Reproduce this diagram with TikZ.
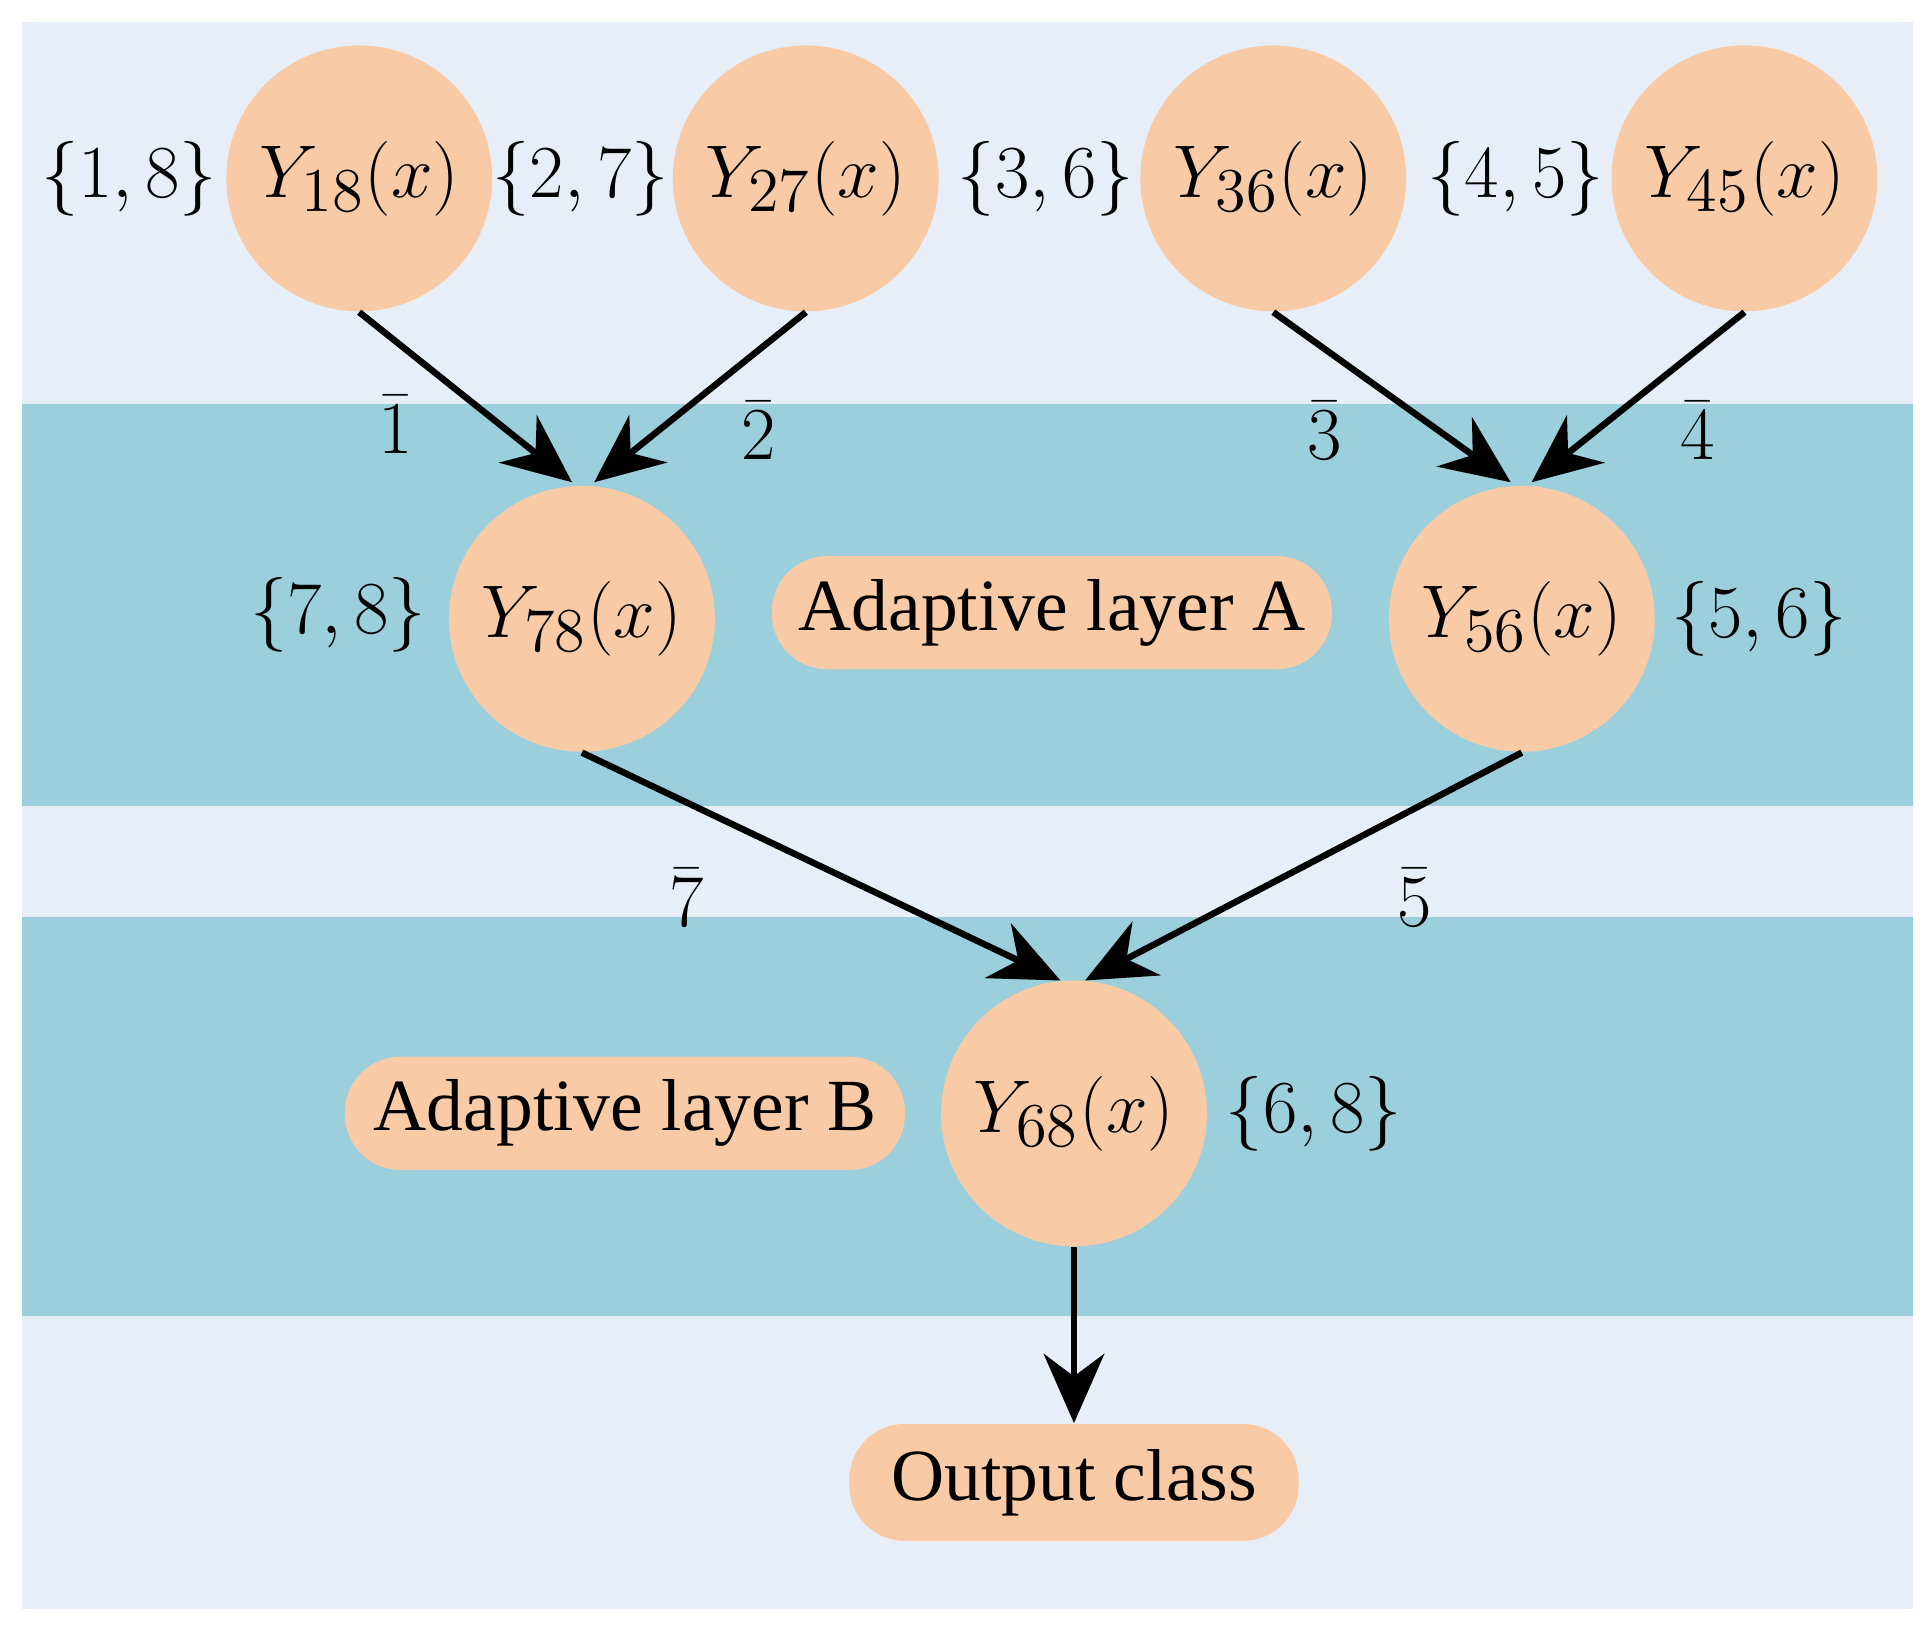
\documentclass[tikz,border=0pt]{standalone}
\usepackage{fontspec}
\setmainfont{Liberation Serif}
\usetikzlibrary{arrows.meta}
\definecolor{bgl}{HTML}{E8EEF7}
\definecolor{band}{HTML}{9BCFDC}
\definecolor{nodef}{HTML}{F8CBA6}
\begin{document}
\begin{tikzpicture}[x=0.01cm,y=-0.01cm,
  circ/.style={circle,fill=nodef,minimum size=2.16cm,inner sep=0pt,font=\fontsize{19}{22}\selectfont},
  pill/.style={rounded corners=0.45cm,fill=nodef,minimum height=0.92cm,inner sep=0pt,font=\fontsize{17}{20}\selectfont},
  lab/.style={font=\fontsize{19}{22}\selectfont},
  arr/.style={line width=1.5pt,-{Stealth[length=16pt,width=14pt]}}]
\useasboundingbox (0,0) rectangle (1568,1327);
\fill[white] (0,0) rectangle (1568,1327);
\fill[bgl] (18,18) rectangle (1555,1308);
\fill[band] (18,328) rectangle (1555,655);
\fill[band] (18,745) rectangle (1555,1070);
\node[circ] (a) at (292,145) {$Y_{18}(x)$};
\node[circ] (b) at (655,145) {$Y_{27}(x)$};
\node[circ] (c) at (1035,145) {$Y_{36}(x)$};
\node[circ] (d) at (1418,145) {$Y_{45}(x)$};
\node[circ] (e) at (473,503) {$Y_{78}(x)$};
\node[circ] (f) at (1237,503) {$Y_{56}(x)$};
\node[circ] (g) at (873,905) {$Y_{68}(x)$};
\node[lab] (sa) at (105,145) {$\{1,8\}$};
\node[lab] (sb) at (472,145) {$\{2,7\}$};
\node[lab] (sc) at (850,145) {$\{3,6\}$};
\node[lab] (sd) at (1232,145) {$\{4,5\}$};
\node[lab] (se) at (275,500) {$\{7,8\}$};
\node[lab] (sf) at (1430,503) {$\{5,6\}$};
\node[lab] (sg) at (1068,905) {$\{6,8\}$};
\node[pill,minimum width=4.55cm] (pa) at (855,498) {Adaptive layer A};
\node[pill,minimum width=4.55cm] (pb) at (508,905) {Adaptive layer B};
\node[pill,minimum width=3.65cm,minimum height=0.95cm] (out) at (873,1205) {Output class};
\coordinate (e1) at (465,392); \coordinate (e2) at (483,392);
\coordinate (f1) at (1228,392); \coordinate (f2) at (1245,392);
\coordinate (g1) at (862,797); \coordinate (g2) at (882,797);
\draw[arr] (a.south) -- (e1);
\draw[arr] (b.south) -- (e2);
\draw[arr] (c.south) -- (f1);
\draw[arr] (d.south) -- (f2);
\draw[arr] (e.south) -- (g1);
\draw[arr] (f.south) -- (g2);
\draw[arr] (g.south) -- (out.north);
\node[lab] at (322,345) {$\bar{1}$};
\node[lab] at (617,350) {$\bar{2}$};
\node[lab] at (1077,350) {$\bar{3}$};
\node[lab] at (1380,350) {$\bar{4}$};
\node[lab] at (558,730) {$\bar{7}$};
\node[lab] at (1150,730) {$\bar{5}$};
\end{tikzpicture}
\end{document}
